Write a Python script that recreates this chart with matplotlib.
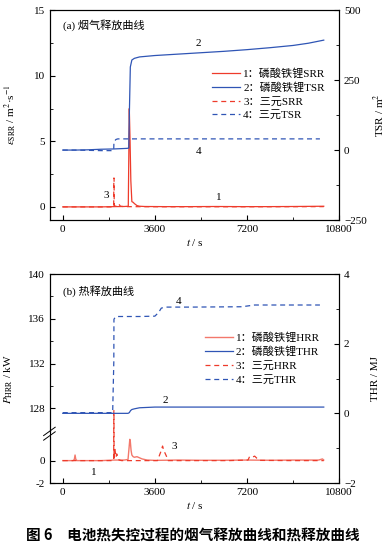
import numpy as np
from matplotlib import pyplot as plt
from matplotlib.ticker import FixedLocator, MultipleLocator

plt.rcParams['font.family'] = ['Liberation Serif', 'Noto Sans CJK SC']
plt.rcParams['mathtext.fontset'] = 'stix'
plt.rcParams['font.size'] = 8
plt.rcParams['axes.linewidth'] = 0.8

RED = '#ee3b2b'
RED_L = '#f3786b'
BLUE = '#2f55b5'

# ---- (a) smoke release ----
lfp_srr_t = [0, 500, 1000, 1500, 2000, 2400, 2560, 2600, 2630, 2660, 2700, 2750, 2800, 2900,
             3000, 3200, 4000, 5000, 6000, 7000, 8000, 9000, 10200]
lfp_srr = [0, 0, 0, 0, 0.02, 0.03, 0.05, 7.5, 5.0, 2.0, 0.4, 0.35, 0.25, 0.1,
           0.05, 0.03, 0.02, 0.02, 0.03, 0.02, 0.02, 0.03, 0.05]

lfp_tsr_t = [0, 500, 1000, 1500, 2000, 2500, 2580, 2600, 2640, 2700, 2800, 3000, 3600,
             4500, 5400, 6300, 7200, 8100, 9000, 9600, 10200]
lfp_tsr = [0, 0, 1, 3, 4, 6, 7, 120, 297, 322, 328, 333, 338,
           343, 348, 353, 359, 366, 374, 382, 393]

tern_srr_t = [0, 1500, 1990, 1995, 2005, 2010, 2060, 2150, 2200, 2250, 2400, 4000, 7000, 10200]
tern_srr = [0, 0, 0, 2.2, 2.2, 0.1, 0.05, 0.05, 0.2, 0.05, 0.02, 0.01, 0.01, 0.02]

tern_tsr_t = [0, 500, 1000, 1500, 1900, 1990, 2000, 2030, 2080, 2150, 3000, 5000, 7000, 9000, 10050]
tern_tsr = [0, 0, -1, -2, -2, -1, 30, 33, 38, 40, 40, 40, 40, 40, 40]

# ---- (b) heat release ----
lfp_hrr_t = [0, 400, 450, 480, 510, 560, 1000, 1500, 2000, 2400, 2550, 2620, 2640, 2670,
             2700, 2750, 2800, 2900, 3000, 3100, 3300, 3600, 4500, 5400, 6300, 7200, 8100,
             9000, 10000, 10150, 10200]
lfp_hrr = [0, 0, 0.1, 0.5, 0.1, 0, 0, 0, 0.05, 0.05, 0.1, 1.9, 1.7, 0.9,
           0.5, 0.35, 0.3, 0.35, 0.25, 0.15, 0.05, 0.02, 0.05, 0.03, 0.03, 0.05, 0.03,
           0.05, 0.05, 0.15, 0.05]

tern_hrr_t = [0, 1500, 1990, 1995, 2000, 2005, 2040, 2080, 2110, 2150, 2200, 2300, 3000,
              3700, 3750, 3850, 3900, 3950, 4050, 4120, 5000, 6500, 7240, 7300, 7400,
              7500, 7590, 7700, 9000, 10200]
tern_hrr = [0, 0, 0, 127.8, 127.8, 0.2, 1.0, 0.3, 0.6, 0.2, 0.05, 0, 0,
            0, 0.3, 0.9, 1.3, 0.9, 0.4, 0, 0, 0, 0.05, 0.35, 0.3,
            0.4, 0.2, 0.02, 0, 0]

lfp_thr_t = [0, 1000, 2000, 2550, 2600, 2650, 2700, 2800, 3000, 3300, 3600, 5000, 7200, 9000, 10200]
lfp_thr = [0, 0, 0, 0, 0.02, 0.08, 0.11, 0.13, 0.16, 0.17, 0.18, 0.18, 0.18, 0.18, 0.18]

tern_thr_t = [0, 1000, 1950, 1995, 2000, 2050, 2100, 3000, 3600, 3750, 3850, 4000, 5000,
              7000, 7300, 7500, 9000, 10050]
tern_thr = [0.02, 0.02, 0.02, 1.5, 2.7, 2.76, 2.78, 2.78, 2.79, 2.9, 3.02, 3.05, 3.05,
            3.06, 3.09, 3.11, 3.11, 3.11]

legend_a = ['1：磷酸铁锂SRR', '2：磷酸铁锂TSR', '3：三元SRR', '4：三元TSR']
legend_b = ['1：磷酸铁锂HRR', '2：磷酸铁锂THR', '3：三元HRR', '4：三元THR']


def fwd(v):
    v = np.asarray(v, float)
    return np.where(v <= 2.3, v, np.where(v >= 125.7, v - 123.34,
                                          2.3 + (v - 2.3) * 0.06 / 123.4))


def inv(u):
    u = np.asarray(u, float)
    return np.where(u <= 2.3, u, np.where(u >= 2.36, u + 123.34,
                                          2.3 + (u - 2.3) * 123.4 / 0.06))


fig = plt.figure(figsize=(3.86, 5.55), dpi=100)
ax1 = fig.add_axes([0.1295, 0.6036, 0.749, 0.378])
ax2 = fig.add_axes([0.1295, 0.1297, 0.749, 0.3766])

dash = (0, (4, 3))

# panel a
l1, = ax1.plot(lfp_srr_t, lfp_srr, color=RED, lw=0.9)
l3, = ax1.plot(tern_srr_t, tern_srr, color=RED, lw=0.9, ls=dash)
ax1r = ax1.twinx()
l2, = ax1r.plot(lfp_tsr_t, lfp_tsr, color=BLUE, lw=0.9)
l4, = ax1r.plot(tern_tsr_t, tern_tsr, color=BLUE, lw=0.9, ls=dash)
ax1.set_ylim(-1, 15)
ax1r.set_ylim(-250, 500)
ax1.yaxis.set_major_locator(MultipleLocator(5))
ax1.yaxis.set_minor_locator(MultipleLocator(2.5))
ax1r.yaxis.set_major_locator(MultipleLocator(250))
ax1r.yaxis.set_minor_locator(MultipleLocator(125))
ax1.set_ylabel(r'$\varepsilon_{\rm SRR}$ / m$^2$·s$^{-1}$')
ax1r.set_ylabel(r'TSR / m$^2$')
ax1.yaxis.set_label_coords(-0.11, 0.5)
ax1r.yaxis.set_label_coords(1.112, 0.5)
ax1.text(0.045, 0.93, '(a) 烟气释放曲线', transform=ax1.transAxes, va='center')
ax1.text(5990, 0.5, '1')
ax1.text(5190, 12.3, '2')
ax1.text(1600, 0.7, '3')
ax1.text(5200, 4.0, '4')
ax1r.legend([l1, l2, l3, l4], legend_a, loc='upper left', bbox_to_anchor=(0.53, 0.765),
            frameon=False, handlelength=2.5, handletextpad=0.3, labelspacing=0.3,
            borderpad=0.3, fontsize=8)

# panel b
h1, = ax2.plot(lfp_hrr_t, lfp_hrr, color=RED_L, lw=1.0)
h3, = ax2.plot(tern_hrr_t, tern_hrr, color=RED, lw=0.9, ls=dash)
ax2.set_yscale('function', functions=(fwd, inv))
ax2r = ax2.twinx()
h2, = ax2r.plot(lfp_thr_t, lfp_thr, color=BLUE, lw=0.9)
h4, = ax2r.plot(tern_thr_t, tern_thr, color=BLUE, lw=0.9, ls=dash)
ax2.set_ylim(-2, 140)
ax2r.set_ylim(-2, 4)
ax2.yaxis.set_major_locator(FixedLocator([-2, 0, 128, 132, 136, 140]))
ax2.yaxis.set_minor_locator(FixedLocator([130, 134, 138]))
ax2.yaxis.set_major_formatter(plt.FuncFormatter(lambda v, p: '%d' % round(v)))
ax2.yaxis.set_minor_formatter(plt.NullFormatter())
ax2r.yaxis.set_major_locator(MultipleLocator(2))
ax2r.yaxis.set_minor_locator(MultipleLocator(1))
ax2.set_ylabel(r'$P_{\rm HRR}$ / kW')
ax2r.set_ylabel('THR / MJ')
ax2.yaxis.set_label_coords(-0.12, 0.5)
ax2r.yaxis.set_label_coords(1.112, 0.5)
ax2.text(0.045, 0.92, '(b) 热释放曲线', transform=ax2.transAxes, va='center')
ax2.text(1100, -1.3, '1')
ax2.text(3900, 128.5, '2')
ax2.text(4250, 1.0, '3')
ax2.text(4400, 137.3, '4')
ax2r.legend([h1, h2, h3, h4], legend_b, loc='upper left', bbox_to_anchor=(0.505, 0.765),
            frameon=False, handlelength=2.5, handletextpad=0.3, labelspacing=0.35,
            borderpad=0.3, fontsize=8)

# axis break marks
ax2.plot([-0.02, 0.02], [0.232, 0.232], transform=ax2.transAxes, color='white',
         lw=3, clip_on=False, zorder=5)
for dy in (0.0, 0.022):
    ax2.plot([-0.022, 0.018], [0.205 + dy, 0.245 + dy], transform=ax2.transAxes,
             color='black', lw=0.7, clip_on=False, zorder=6)

for ax, axr in ((ax1, ax1r), (ax2, ax2r)):
    ax.set_xlim(-500, 10800)
    ax.xaxis.set_major_locator(MultipleLocator(3600))
    ax.xaxis.set_minor_locator(MultipleLocator(1800))
    ax.set_xlabel(r'$t$ / s', labelpad=2)
    ax.tick_params(which='both', direction='in', top=False, right=False)
    ax.tick_params(which='major', length=3.5)
    ax.tick_params(which='minor', length=2)
    axr.tick_params(which='both', direction='in')
    axr.tick_params(which='major', length=3.5)
    axr.tick_params(which='minor', length=2)

fig.text(0.5, 0.027, '图 6　电池热失控过程的烟气释放曲线和热释放曲线', ha='center',
         fontsize=10.5, fontweight='bold', family=['Noto Sans CJK SC'])

fig.savefig('out.png', dpi=100)
